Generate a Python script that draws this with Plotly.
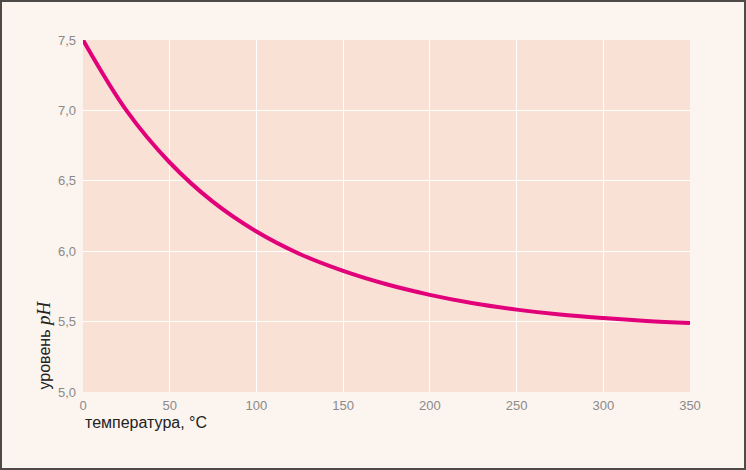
import plotly.graph_objects as go

temperature = [0, 25, 50, 75, 100, 125, 150, 175, 200, 225, 250, 275, 300, 325, 350]
ph_level = [7.50, 7.00, 6.63, 6.35, 6.14, 5.98, 5.86, 5.765, 5.69, 5.63, 5.585, 5.55, 5.525, 5.505, 5.49]
x_ticks = [0, 50, 100, 150, 200, 250, 300, 350]
y_ticks = [5.0, 5.5, 6.0, 6.5, 7.0, 7.5]

W, H = 746, 470
ml, mr, mt, mb = 83, 56, 40, 78
pw, ph = W - ml - mr, H - mt - mb

fig = go.Figure()
fig.add_trace(go.Scatter(x=temperature, y=ph_level, mode="lines",
                         line=dict(color="#e2007a", width=4, shape="spline", smoothing=1.0),
                         hoverinfo="skip", showlegend=False))

tickfont = dict(family="Liberation Sans Narrow, Liberation Sans, sans-serif", size=13, color="#8a8a8a")
fig.update_xaxes(range=[0, 350], tickvals=x_ticks, showgrid=True, gridcolor="#ffffff", gridwidth=1,
                 zeroline=False, showline=False, ticks="", tickfont=tickfont, ticklabelstandoff=4)
fig.update_yaxes(range=[5.0, 7.5], tickvals=y_ticks, tickformat=".1f", showgrid=True, gridcolor="#ffffff",
                 gridwidth=1, zeroline=False, showline=False, ticks="", tickfont=tickfont, ticklabelstandoff=6)

titlefont = dict(family="Liberation Sans Narrow, Liberation Sans, sans-serif", size=16, color="#222222")
fig.add_annotation(text="температура, °C", xref="paper", yref="paper", x=0, y=-30/ph,
                   xanchor="left", yanchor="middle", showarrow=False, font=titlefont)
fig.add_annotation(text="уровень <i><span style='font-family:Liberation Serif;font-size:19px'>pH</span></i>",
                   xref="paper", yref="paper", x=-40/pw, y=0, textangle=-90,
                   xanchor="center", yanchor="bottom", showarrow=False, font=titlefont)

fig.add_shape(type="rect", xref="paper", yref="paper",
              x0=-(ml - 1) / pw, x1=1 + (mr - 1) / pw, y0=-(mb - 1) / ph, y1=1 + (mt - 1) / ph,
              line=dict(color="#4d4a48", width=2), layer="above")

fig.update_layout(width=W, height=H, margin=dict(l=ml, r=mr, t=mt, b=mb),
                  paper_bgcolor="#fcf4ef", plot_bgcolor="#f9e1d5", separators=", ")
fig.write_html("out.html", config={"displayModeBar": False},
               post_script="document.body.style.margin='0';")
